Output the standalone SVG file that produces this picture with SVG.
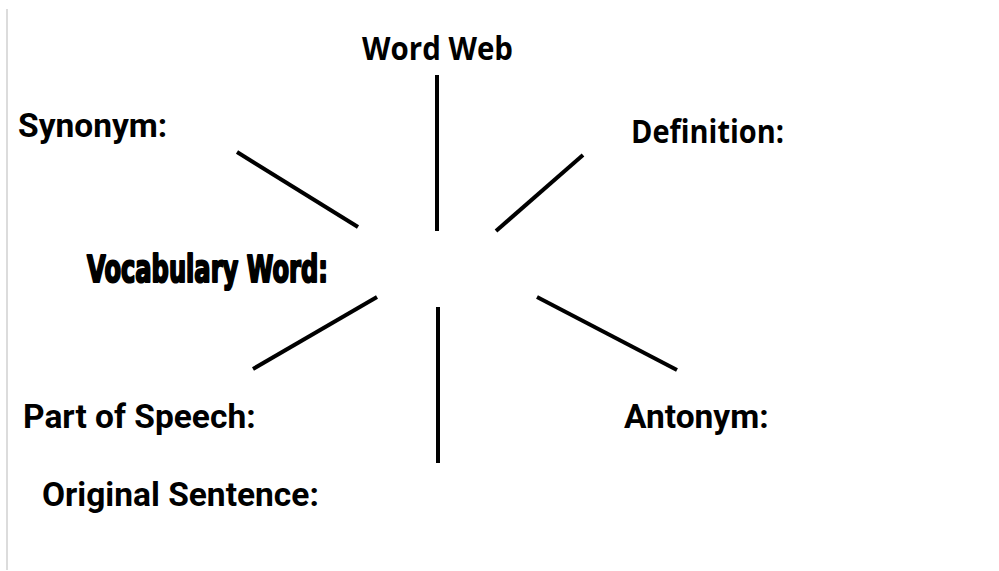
<svg xmlns="http://www.w3.org/2000/svg" width="999" height="571" viewBox="0 0 999 571">
<style>
.r{font-family:Roboto,"Liberation Sans",sans-serif;font-weight:700;font-size:33.5px;fill:#000}
.o{font-family:"Open Sans","Noto Sans",sans-serif;font-weight:700;font-size:32px;fill:#000}
.v{font-family:"DejaVu Sans","Liberation Sans",sans-serif;font-weight:700;font-size:37px;fill:#000;stroke:#000;stroke-width:2.2;stroke-linejoin:round}
.c line{stroke:#000;stroke-width:4}
</style>
<rect width="999" height="571" fill="#fff"/>
<line x1="7" y1="9" x2="7" y2="570" stroke="#d0d0d0" stroke-width="1.5"/>
<g id="title"><text class="o" x="362" y="60" textLength="151" lengthAdjust="spacingAndGlyphs">Word Web</text></g>
<g id="synonym"><text class="r" x="18" y="137">Synonym:</text></g>
<g id="definition"><text class="o" x="631" y="143" textLength="153" lengthAdjust="spacingAndGlyphs">Definition:</text></g>
<g id="vocab"><text class="v" x="87" y="282" textLength="241" lengthAdjust="spacingAndGlyphs">Vocabulary Word:</text></g>
<g id="pos"><text class="r" x="23" y="428">Part of Speech:</text></g>
<g id="antonym"><text class="r" x="624" y="428">Antonym:</text></g>
<g id="sentence"><text class="r" x="42" y="506">Original Sentence:</text></g>
<g class="c" id="connectors">
<line x1="237" y1="152" x2="358" y2="227"/>
<line x1="437" y1="75" x2="437" y2="231"/>
<line x1="496" y1="231" x2="583" y2="155"/>
<line x1="377" y1="297" x2="253" y2="369"/>
<line x1="438" y1="307" x2="438" y2="463"/>
<line x1="537" y1="297" x2="677" y2="370"/>
</g>
</svg>
